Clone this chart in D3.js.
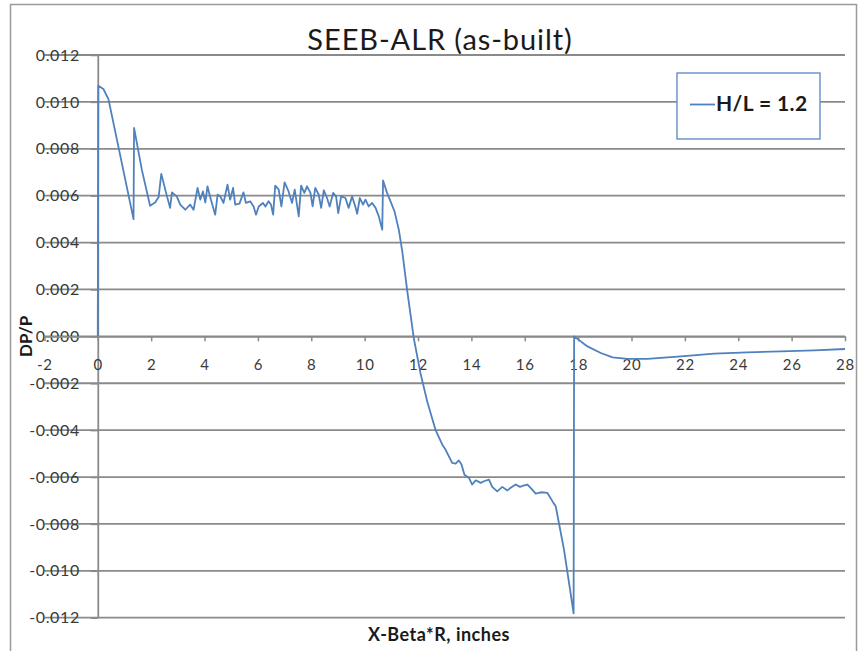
<!DOCTYPE html>
<html>
<head>
<meta charset="utf-8">
<script src="https://cdn.jsdelivr.net/npm/d3@7/dist/d3.min.js"></script>
<style>
  html, body { margin: 0; padding: 0; background: #fff; }
  svg { display: block; }
  text { font-family: Lato, "Open Sans", sans-serif; }
</style>
</head>
<body>
<svg id="chart" width="860" height="651"></svg>
<script>
// Pressure ratio DP/P along the bearing, as-built profile
const chartTitle = "SEEB-ALR (as-built)";
const seriesName = "H/L = 1.2";
const xTitle = "X-Beta*R, inches";
const yTitle = "DP/P";

const xTicks = [-2, 0, 2, 4, 6, 8, 10, 12, 14, 16, 18, 20, 22, 24, 26, 28];
const yTicks = [-0.012, -0.010, -0.008, -0.006, -0.004, -0.002, 0, 0.002, 0.004, 0.006, 0.008, 0.010, 0.012];

const xInches = [
  0, 0.02, 0.21, 0.40, 1.34, 1.36, 1.65, 1.96, 2.15, 2.28, 2.38, 2.56, 2.71, 2.78, 2.96,
  3.09, 3.28, 3.46, 3.59, 3.74, 3.84, 3.94, 4.03, 4.11, 4.24, 4.40, 4.49, 4.59, 4.71, 4.86,
  4.96, 5.07, 5.15, 5.31, 5.46, 5.55, 5.71, 5.84, 5.93, 6.03, 6.19, 6.28, 6.40, 6.49, 6.57,
  6.65, 6.78, 6.88, 7.00, 7.15, 7.28, 7.38, 7.53, 7.62, 7.74, 7.84, 7.97, 8.05, 8.15, 8.28,
  8.37, 8.47, 8.59, 8.69, 8.82, 8.93, 9.01, 9.12, 9.28, 9.40, 9.53, 9.65, 9.72, 9.82, 9.94,
  10.03, 10.15, 10.28, 10.41, 10.53, 10.66, 10.69, 10.84, 10.97, 11.12, 11.28, 11.41, 11.59,
  11.84, 12.09, 12.35, 12.66, 12.91, 13.03, 13.28, 13.41, 13.53, 13.63, 13.74, 13.91, 14.03,
  14.16, 14.35, 14.47, 14.66, 14.78, 14.97, 15.16, 15.35, 15.47, 15.66, 15.82, 15.95, 16.10,
  16.22, 16.41, 16.60, 16.85, 17.04, 17.16, 17.28, 17.47, 17.66, 17.83, 17.85, 18.35, 18.85,
  19.29, 19.85, 20.6, 21.85, 23.10, 24.35, 25.6, 26.85, 28.0
];

const dpOverP = [
  0, 0.01069, 0.01055, 0.01012, 0.00500, 0.00889, 0.00711, 0.00557, 0.00571, 0.00594, 0.00693, 0.00612, 0.00548, 0.00614, 0.00597,
  0.00562, 0.00540, 0.00562, 0.00540, 0.00633, 0.00583, 0.00618, 0.00571, 0.00640, 0.00583, 0.00519, 0.00604, 0.00597, 0.00569, 0.00647,
  0.00583, 0.00633, 0.00562, 0.00566, 0.00614, 0.00569, 0.00576, 0.00554, 0.00519, 0.00554, 0.00569, 0.00554, 0.00576, 0.00562, 0.00519,
  0.00643, 0.00626, 0.00554, 0.00657, 0.00618, 0.00569, 0.00626, 0.00512, 0.00643, 0.00612, 0.00640, 0.00612, 0.00554, 0.00633, 0.00604,
  0.00548, 0.00623, 0.00590, 0.00554, 0.00612, 0.00597, 0.00526, 0.00597, 0.00590, 0.00548, 0.00597, 0.00554, 0.00523, 0.00590, 0.00562,
  0.00583, 0.00554, 0.00569, 0.00548, 0.00512, 0.00455, 0.00665, 0.00612, 0.00576, 0.00533, 0.00455, 0.00362, 0.00199,
  -0.00007, -0.00156, -0.00280, -0.00400, -0.00462, -0.00483, -0.00540, -0.00543, -0.00529, -0.00547, -0.00590, -0.00604, -0.00632,
  -0.00614, -0.00625, -0.00618, -0.00611, -0.00642, -0.00661, -0.00642, -0.00657, -0.00646, -0.00632, -0.00642, -0.00637, -0.00632,
  -0.00646, -0.00671, -0.00665, -0.00668, -0.00704, -0.00725, -0.00796, -0.00910, -0.01052, -0.01182, 0.00000, -0.00043, -0.00071,
  -0.00090, -0.00096, -0.00096, -0.00085, -0.00074, -0.00068, -0.00064, -0.00060, -0.00054
];

const points = xInches.map((x, i) => ({ x, y: dpOverP[i] }));

const svg = d3.select("#chart");
const gridColor = "#8a8a8a";
const lineColor = "#4f81bd";
const textColor = "#3a3a3a";

const x = d3.scaleLinear().domain([-2, 28]).range([44.4, 845]);
const y = d3.scaleLinear().domain([-0.012, 0.012]).range([617.7, 55]);
const fmt = d => (d < 0 ? "-" : "") + Math.abs(d).toFixed(3);

// outer chart frame
svg.append("rect")
  .attr("x", 10.5).attr("y", 4.5).attr("width", 846).attr("height", 700)
  .attr("fill", "#fff").attr("stroke", "#9a9a9a").attr("stroke-width", 1.5);

// horizontal gridlines
svg.append("g").selectAll("line").data(yTicks).join("line")
  .attr("x1", x(-2)).attr("x2", x(28))
  .attr("y1", d => y(d)).attr("y2", d => y(d))
  .attr("stroke", gridColor).attr("stroke-width", 1.8);

// vertical axis crossing at x = 0
const yAxis = svg.append("g")
  .attr("transform", `translate(${x(0)},0)`)
  .call(d3.axisLeft(y).tickValues(yTicks).tickFormat(fmt).tickSize(7).tickSizeOuter(0).tickPadding(11));
yAxis.select(".domain").attr("stroke", gridColor).attr("stroke-width", 1.8);
yAxis.selectAll(".tick line").attr("stroke", gridColor).attr("stroke-width", 1.5);
yAxis.selectAll(".tick text")
  .attr("fill", textColor).style("font-size", "16px").style("letter-spacing", "0.6px");

// horizontal axis crossing at y = 0
const xAxis = svg.append("g")
  .attr("transform", `translate(0,${y(0)})`)
  .call(d3.axisBottom(x).tickValues(xTicks).tickFormat(d => (d < 0 ? "-" : "") + Math.abs(d))
    .tickSize(5).tickSizeOuter(0).tickPadding(18));
xAxis.select(".domain").attr("stroke", gridColor).attr("stroke-width", 1.8);
xAxis.selectAll(".tick line").attr("stroke", gridColor).attr("stroke-width", 1.5);
xAxis.selectAll(".tick text")
  .attr("fill", textColor).style("font-size", "15px").style("letter-spacing", "0.8px");

// data series
const line = d3.line().x(d => x(d.x)).y(d => y(d.y));
svg.append("path")
  .datum(points)
  .attr("d", line)
  .attr("fill", "none")
  .attr("stroke", lineColor)
  .attr("stroke-width", 1.8)
  .attr("stroke-linejoin", "round");

// title
svg.append("text")
  .attr("x", 440).attr("y", 50)
  .attr("text-anchor", "middle")
  .attr("fill", "#1a1a1a")
  .style("font-size", "29px").style("letter-spacing", "0.9px")
  .text(chartTitle);

// axis titles
svg.append("text")
  .attr("x", 439).attr("y", 641)
  .attr("text-anchor", "middle")
  .attr("fill", "#1a1a1a")
  .style("font-size", "18px").style("font-weight", "bold").style("letter-spacing", "0.5px")
  .text(xTitle);

svg.append("text")
  .attr("transform", `translate(32,${y(0)}) rotate(-90)`)
  .attr("text-anchor", "middle")
  .attr("fill", "#1a1a1a")
  .style("font-size", "17px").style("font-weight", "bold")
  .text(yTitle);

// legend
const legend = svg.append("g");
legend.append("rect")
  .attr("x", 677).attr("y", 73).attr("width", 143).attr("height", 66)
  .attr("fill", "#fff").attr("stroke", "#6f95cc").attr("stroke-width", 1.5);
legend.append("line")
  .attr("x1", 690).attr("x2", 715).attr("y1", 104.5).attr("y2", 104.5)
  .attr("stroke", lineColor).attr("stroke-width", 1.8);
legend.append("text")
  .attr("x", 716).attr("y", 111)
  .attr("fill", "#1a1a1a")
  .style("font-size", "21px").style("font-weight", "bold").style("letter-spacing", "0.4px")
  .text(seriesName);
</script>
</body>
</html>
